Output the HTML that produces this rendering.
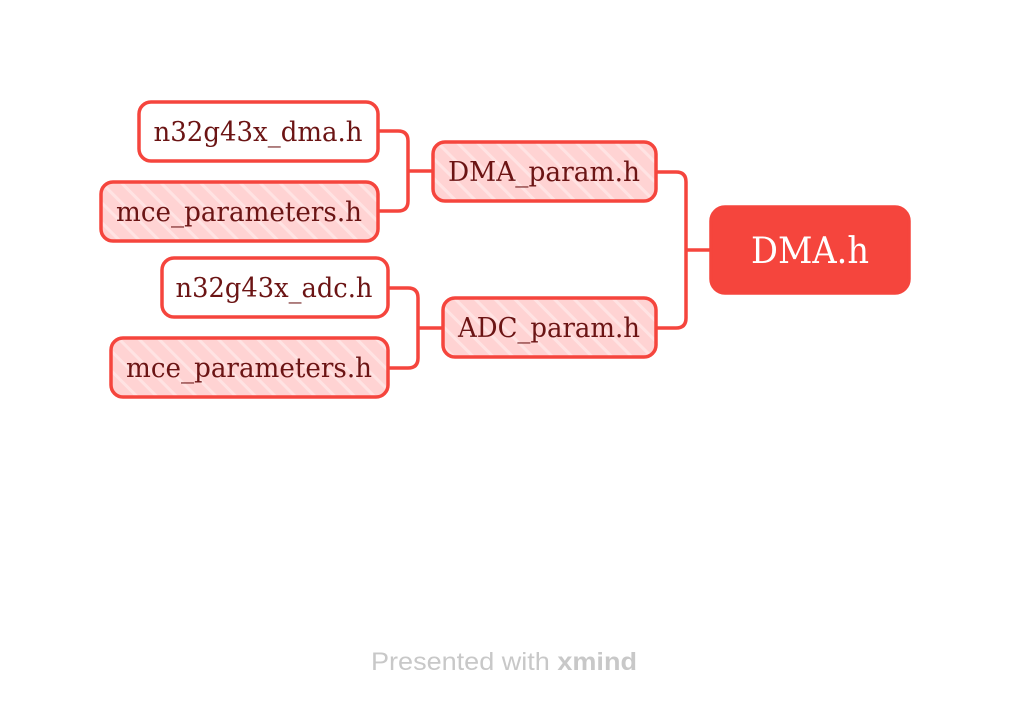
<!DOCTYPE html>
<html><head><meta charset="utf-8"><style>
html,body{margin:0;padding:0;background:#fff;width:1010px;height:712px;overflow:hidden}
</style></head><body>
<svg width="1010" height="712" viewBox="0 0 1010 712" xmlns="http://www.w3.org/2000/svg">
<defs>
<pattern id="hatch" width="14" height="14" patternUnits="userSpaceOnUse" patternTransform="rotate(-45)">
<rect width="14" height="14" fill="#ffe3e3"/><rect width="11" height="14" fill="#ffd3d3"/>
</pattern>
</defs>
<g fill="none" stroke="#f5453d" stroke-width="3.5">
<path d="M378 131 H398 Q408 131 408 141 V201 Q408 211 398 211 H378"/>
<path d="M408 171 H433"/>
<path d="M388 288 H408 Q418 288 418 298 V358 Q418 368 408 368 H388"/>
<path d="M418 328 H443"/>
<path d="M656 172 H676 Q686 172 686 182 V318 Q686 328 676 328 H656"/>
<path d="M686 250 H711"/>
</g>
<g stroke="#f5453d" stroke-width="3.5">
<rect x="139" y="102" width="239" height="59" rx="12" fill="#fff"/>
<rect x="101" y="182" width="277" height="59" rx="12" fill="url(#hatch)"/>
<rect x="433" y="142" width="223" height="59" rx="12" fill="url(#hatch)"/>
<rect x="162" y="258" width="226" height="59" rx="12" fill="#fff"/>
<rect x="111" y="338" width="277" height="59" rx="12" fill="url(#hatch)"/>
<rect x="443" y="298" width="213" height="59" rx="12" fill="url(#hatch)"/>
<rect x="711" y="207" width="198" height="86" rx="14" fill="#f5453d"/>
</g>
<g font-family="'DejaVu Serif','Liberation Serif',serif" font-size="27" fill="#6b1414" text-anchor="middle">
<text x="258" y="141" textLength="209" lengthAdjust="spacingAndGlyphs">n32g43x_dma.h</text>
<text x="239" y="221" textLength="246" lengthAdjust="spacingAndGlyphs">mce_parameters.h</text>
<text x="544" y="181" textLength="192" lengthAdjust="spacingAndGlyphs">DMA_param.h</text>
<text x="274" y="297" textLength="197" lengthAdjust="spacingAndGlyphs">n32g43x_adc.h</text>
<text x="249" y="377" textLength="246" lengthAdjust="spacingAndGlyphs">mce_parameters.h</text>
<text x="549" y="337" textLength="182" lengthAdjust="spacingAndGlyphs">ADC_param.h</text>
<text x="810" y="263" font-size="36" fill="#fff" textLength="118" lengthAdjust="spacingAndGlyphs">DMA.h</text>
</g>
<text x="504" y="670" text-anchor="middle" font-family="'Liberation Sans',sans-serif" font-size="25" fill="#c8c8c8" textLength="266" lengthAdjust="spacingAndGlyphs">Presented with <tspan font-weight="bold">xmind</tspan></text>
</svg>
</body></html>
